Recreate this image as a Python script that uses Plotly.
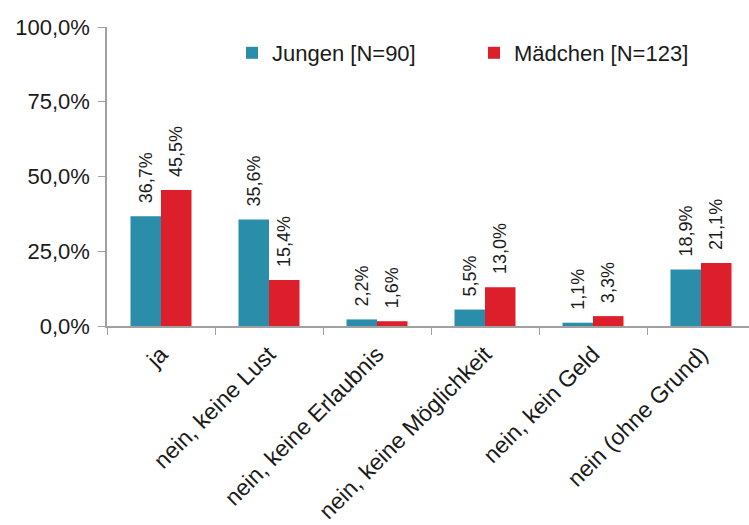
import plotly.graph_objects as go

categories = ["ja", "nein, keine Lust", "nein, keine Erlaubnis",
              "nein, keine Möglichkeit", "nein, kein Geld", "nein (ohne Grund)"]
jungen = [0.367, 0.356, 0.022, 0.055, 0.011, 0.189]
maedchen = [0.455, 0.154, 0.016, 0.130, 0.033, 0.211]
series_names = ["Jungen [N=90]", "Mädchen [N=123]"]
y_ticks = [0, 0.25, 0.5, 0.75, 1.0]

W, H = 749, 525
ml, mt, mb = 107, 27, 199
cat_w = 108
plot_w = W - ml
plot_h = H - mt - mb

fig = go.Figure()
for name, vals, col in [(series_names[0], jungen, "#2A8DA9"),
                        (series_names[1], maedchen, "#DC1F2B")]:
    fig.add_trace(go.Bar(
        x=categories, y=vals, name=name, marker_color=col,
        marker_line_width=0,
        texttemplate="\u00a0\u00a0%{y:.1%}", textposition="outside",
        textangle=-90, constraintext="none", cliponaxis=False,
        textfont=dict(family="Liberation Sans, Arial", size=18, color="#1a1a1a"),
    ))

fig.update_layout(
    width=W, height=H, margin=dict(l=ml, r=0, t=mt, b=mb, autoexpand=False),
    plot_bgcolor="white", paper_bgcolor="white",
    separators=",.",
    barmode="group", bargap=0.435, bargroupgap=0,
    font=dict(family="Liberation Sans, Arial", size=22, color="#1a1a1a"),
    showlegend=True,
    legend=dict(orientation="h", x=(232 - ml) / plot_w, xanchor="left",
                y=(H - mb - 53) / plot_h, yanchor="middle",
                entrywidth=197, font=dict(size=22), bgcolor="rgba(0,0,0,0)"),
)
fig.update_xaxes(
    range=[-0.5, -0.5 + plot_w / cat_w], showline=True, linecolor="#A0A0A0",
    linewidth=1.5, ticks="outside", tickson="boundaries", ticklen=7,
    tickcolor="#A0A0A0", tickangle=-45, showgrid=False,
    tickfont=dict(size=23), automargin=False, ticklabelstandoff=4,
)
fig.update_yaxes(
    range=[0, 1], tickvals=y_ticks, tickformat=".1%", showline=True,
    linecolor="#A0A0A0", linewidth=1.5, ticks="outside", ticklen=7,
    tickcolor="#A0A0A0", showgrid=False, zeroline=False,
    tickfont=dict(size=22), automargin=False, ticklabelstandoff=4,
)

fig.write_html("out.html")
